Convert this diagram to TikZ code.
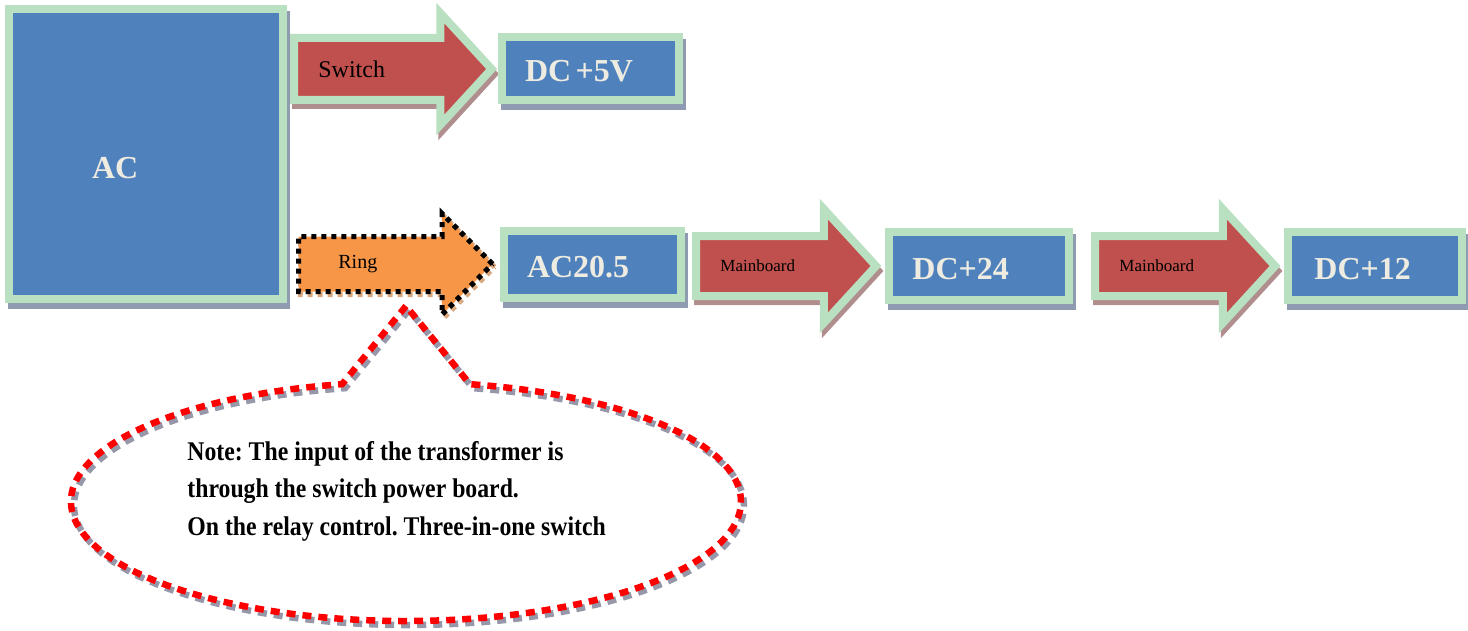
\documentclass[tikz,border=0pt]{standalone}
\usepackage{fontspec}
\setmainfont{Liberation Serif}
\newfontfamily\notefont[FakeStretch=0.88]{Liberation Serif}
\usepackage{tikz}
\usetikzlibrary{shapes.arrows, shapes.callouts, shadows, positioning}
\frenchspacing

\definecolor{boxblue}{RGB}{79,129,189}
\definecolor{boxgreen}{RGB}{185,224,193}
\definecolor{boxtext}{RGB}{238,236,225}
\definecolor{boxshadow}{RGB}{142,155,177}
\definecolor{arrowred}{RGB}{192,80,77}
\definecolor{arrowshadow}{RGB}{176,142,142}
\definecolor{ringorange}{RGB}{247,150,70}
\definecolor{ringshadow}{RGB}{217,168,126}
\definecolor{notered}{RGB}{255,0,0}
\definecolor{noteshadow}{RGB}{150,152,170}

\tikzstyle{powerbox} = [rectangle, fill=boxblue, draw=boxgreen, line width=4pt, text=boxtext, font=\bfseries\fontsize{16}{19}\selectfont, align=left, inner xsep=11.5pt, text height=13pt, text depth=0pt, drop shadow={shadow xshift=1.5pt, shadow yshift=-3pt, fill=boxshadow, draw=boxshadow, opacity=1}]
\tikzstyle{blockarrow} = [single arrow, fill=arrowred, draw=boxgreen, line width=4pt, single arrow tip angle=95, inner xsep=0pt, drop shadow={shadow xshift=1pt, shadow yshift=-2.5pt, fill=arrowshadow, draw=arrowshadow, opacity=1}]
\tikzstyle{ringarrow} = [single arrow, fill=ringorange, draw=black, line width=2.5pt, dash pattern=on 2.5pt off 2.5pt, single arrow tip angle=90, inner xsep=0pt, drop shadow={shadow xshift=1pt, shadow yshift=-1.5pt, fill=none, draw=ringshadow, opacity=1}]
\tikzstyle{arrowlabel} = [inner sep=0pt, text=black]
\tikzstyle{note} = [ellipse callout, draw=notered, line width=3.25pt, dash pattern=on 4.5pt off 3.5pt, callout pointer arc=22, drop shadow={shadow xshift=1.5pt, shadow yshift=-2pt, fill=none, draw=noteshadow, opacity=1}]
\tikzstyle{notetext} = [inner sep=0pt, align=left, font=\notefont\bfseries\fontsize{13.5}{18.75}\selectfont]

\begin{document}
\begin{tikzpicture}[x=0.5pt, y=-0.5pt]
    \useasboundingbox (0,0) rectangle (1468,631);

    % mains input
    \node[powerbox, minimum width=137pt, minimum height=145pt, inner xsep=41.5pt, text width=54pt, text height=24pt] (ac) at (146,154) {AC};

    % standby branch
    \node[blockarrow, anchor=tail, minimum height=98.8pt, inner ysep=13.5pt, single arrow head extend=12.5pt] (sw) at (290,69) {};
    \node[arrowlabel, font=\fontsize{12}{14}\selectfont, right=14pt of sw.tail] (swlbl) {Switch};
    \node[powerbox, minimum width=88.5pt, minimum height=31.5pt, text width=65.5pt, right=0.5pt of sw.tip] (dc5) {DC\hspace{0.14em}+5V};

    % transformer branch
    \node[ringarrow, anchor=tail, minimum height=97pt, inner ysep=12.5pt, single arrow head extend=11.5pt] (ring) at (296,264) {};
    \node[arrowlabel, font=\fontsize{10}{12}\selectfont, right=21pt of ring.tail] (ringlbl) {Ring};
    \node[powerbox, minimum width=88.5pt, minimum height=33.5pt, text width=65.5pt, right=2pt of ring.tip] (ac205) {AC20.5};

    \node[blockarrow, anchor=tail, minimum height=90pt, inner ysep=13pt, single arrow head extend=13.5pt] (mb1) at (692,266) {};
    \node[arrowlabel, font=\fontsize{8.5}{10}\selectfont, right=14pt of mb1.tail] (mb1lbl) {Mainboard};
    \node[powerbox, minimum width=90pt, minimum height=34pt, text width=67pt, right=2pt of mb1.tip] (dc24) {DC+24};

    \node[blockarrow, anchor=tail, minimum height=90pt, inner ysep=13pt, single arrow head extend=13.5pt] (mb2) at (1091,266) {};
    \node[arrowlabel, font=\fontsize{8.5}{10}\selectfont, right=14pt of mb2.tail] (mb2lbl) {Mainboard};
    \node[powerbox, minimum width=87pt, minimum height=34pt, inner xsep=13pt, text width=61pt, right=2pt of mb2.tip] (dc12) {DC+12};

    % remark
    \coordinate (notetip) at (406,306);
    \node[note, minimum width=335pt, minimum height=119.5pt, callout absolute pointer={(notetip)}] (note) at (406,501.5) {};
    \node[notetext, anchor=north west] (notetxt) at (187,441) {Note: The input of the transformer is\\through the switch power board.\\On the relay control. Three-in-one switch};
\end{tikzpicture}
\end{document}
